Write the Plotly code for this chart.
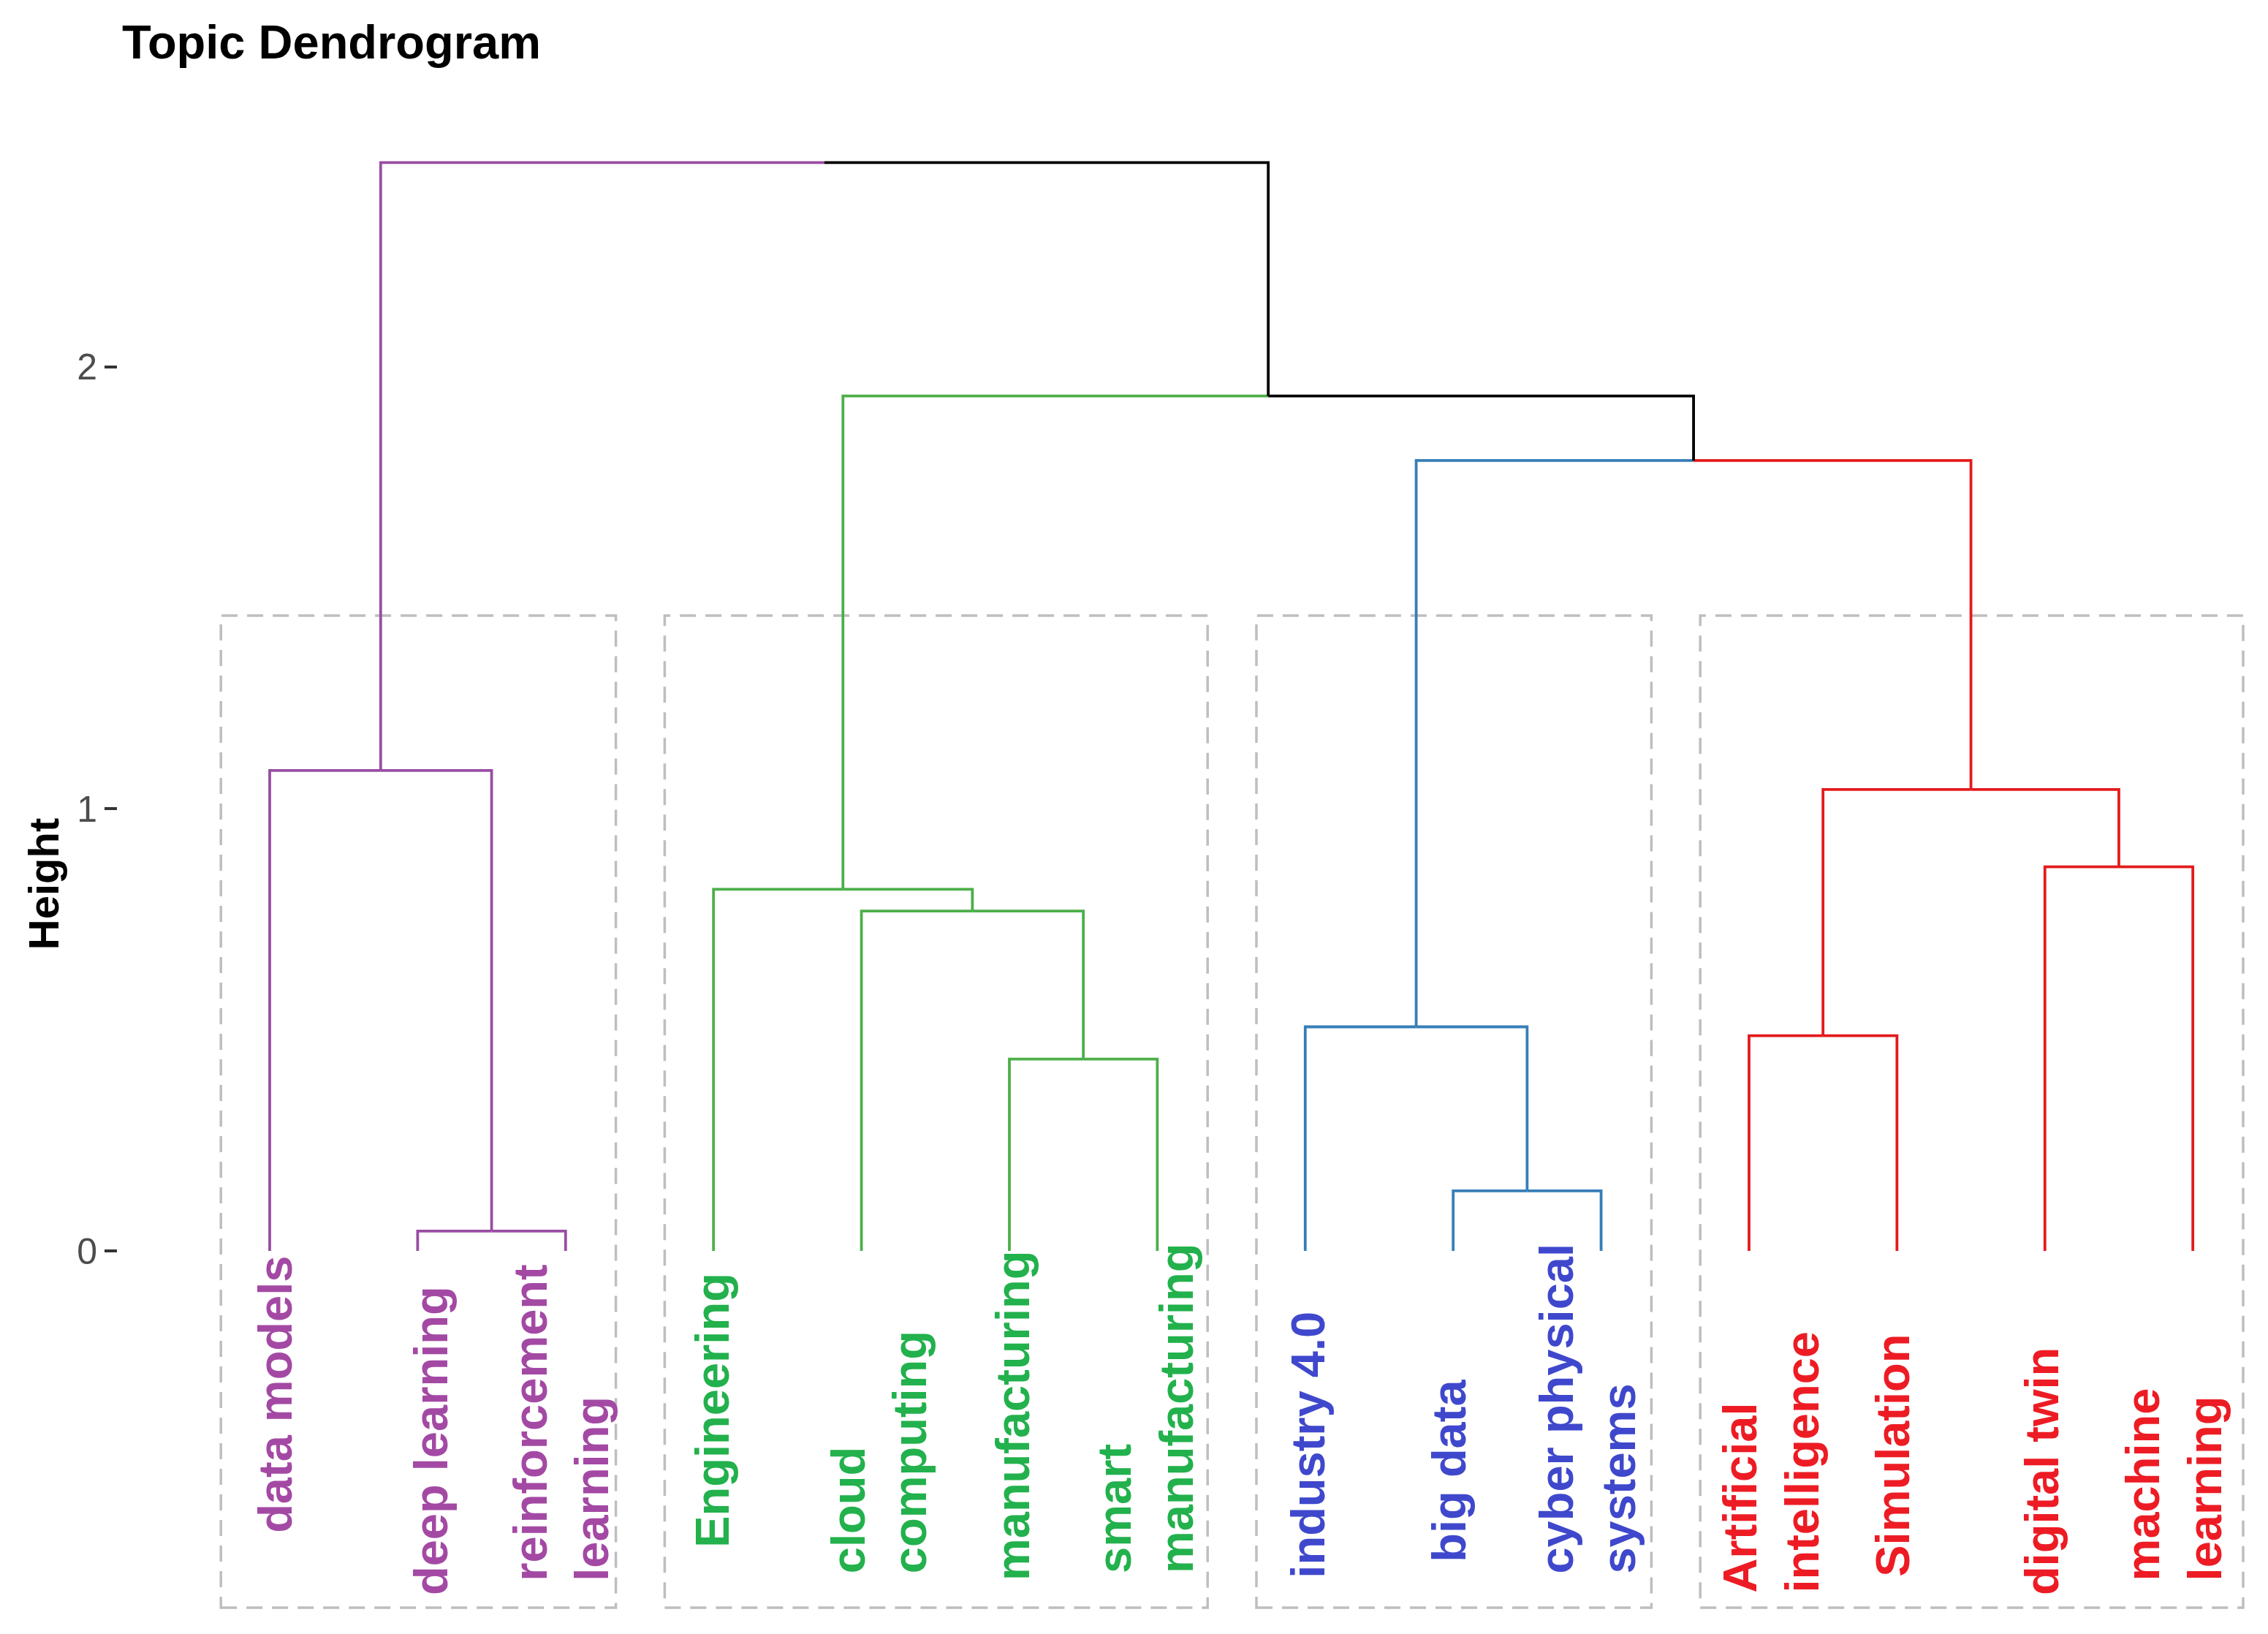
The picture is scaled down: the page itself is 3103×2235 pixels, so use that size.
import plotly.graph_objects as go

# ---------------- data ----------------
LEAF_LABELS = ["data models", "deep learning", "reinforcement<br>learning",
               "Engineering", "cloud<br>computing", "manufacturing", "smart<br>manufacturing",
               "industry 4.0", "big data", "cyber physical<br>systems",
               "Artificial<br>intelligence", "Simulation", "digital twin", "machine<br>learning"]

# hclust-style merges: negative = leaf (1-based, display order), positive = earlier merge (1-based)
MERGE_LEFT = [-2, -9, -6, -11, -8, -5, -4, -13, 4, -1, 5, 7, 10]
MERGE_RIGHT = [-3, -10, -7, -12, 2, 3, 6, -14, 8, 1, 9, 11, 12]
MERGE_HEIGHT = [0.045, 0.136, 0.434, 0.487, 0.507, 0.769, 0.818, 0.869, 1.044, 1.087, 1.788, 1.934, 2.462]

LEAF_CLUSTER = [1, 1, 1, 2, 2, 2, 2, 3, 3, 3, 4, 4, 4, 4]
N_CLUSTERS = 4
Y_TICKS = [0, 1, 2]

# ---------------- styles / layout ----------------
BRANCH_COLORS = {1: "#984EA3", 2: "#4DAF4A", 3: "#377EB8", 4: "#E41A1C"}
LABEL_COLORS = {1: "#A349A4", 2: "#22B14C", 3: "#3F48CC", 4: "#ED1C24"}
RECT_PAD_L = 0.33
RECT_PAD_R = 0.34
RECT_BOTTOM = -0.807
# where each leaf label text starts (bottom of the rotated text), in axis units
LABEL_START = [-0.642, -0.782, -0.750, -0.674, -0.733, -0.750, -0.733,
               -0.743, -0.707, -0.733, -0.776, -0.740, -0.782, -0.750]
# horizontal nudge of each label relative to its leaf, in leaf units
LABEL_SHIFT = [0.04, 0.09, -0.03, -0.01, 0.12, 0.02, -0.08,
               0.02, -0.03, -0.09, 0.15, -0.03, -0.02, -0.13]
FONT = "Liberation Sans, Arial, sans-serif"

n = len(LEAF_LABELS)


def ref_info(r, cache):
    """return (x, height, set of clusters) for a node reference"""
    if r < 0:
        i = -r
        return float(i), 0.0, {LEAF_CLUSTER[i - 1]}
    return cache[r]


cache = {}
segments = {}  # color -> list of (xs, ys)
for k, (a, b, h) in enumerate(zip(MERGE_LEFT, MERGE_RIGHT, MERGE_HEIGHT), start=1):
    xa, ha, ca = ref_info(a, cache)
    xb, hb, cb = ref_info(b, cache)
    x = (xa + xb) / 2.0
    cache[k] = (x, h, ca | cb)
    for xc, hc, cc in ((xa, ha, ca), (xb, hb, cb)):
        col = BRANCH_COLORS[next(iter(cc))] if len(cc) == 1 else "#000000"
        segments.setdefault(col, []).append(([xc, xc, x], [hc, h, h]))

fig = go.Figure()
for col, segs in segments.items():
    xs, ys = [], []
    for sx, sy in segs:
        xs += sx + [None]
        ys += sy + [None]
    fig.add_trace(go.Scatter(x=xs, y=ys, mode="lines",
                             line=dict(color=col, width=3.8),
                             hoverinfo="skip", showlegend=False))

# cluster rectangles
sorted_h = sorted(MERGE_HEIGHT, reverse=True)
rect_top = (sorted_h[N_CLUSTERS - 2] + sorted_h[N_CLUSTERS - 1]) / 2.0
for c in range(1, N_CLUSTERS + 1):
    idx = [i + 1 for i, cl in enumerate(LEAF_CLUSTER) if cl == c]
    fig.add_shape(type="rect", xref="x", yref="y",
                  x0=min(idx) - RECT_PAD_L, x1=max(idx) + RECT_PAD_R,
                  y0=RECT_BOTTOM, y1=rect_top,
                  line=dict(color="#BEBEBE", width=3.5, dash="22px,13px"),
                  fillcolor="rgba(0,0,0,0)", layer="below")

# leaf labels
for i, lab in enumerate(LEAF_LABELS, start=1):
    fig.add_annotation(x=i + LABEL_SHIFT[i - 1], y=LABEL_START[i - 1], xref="x", yref="y",
                       text="<b>" + lab + "</b>",
                       showarrow=False, textangle=-90, xanchor="center", yanchor="bottom",
                       align="left",
                       font=dict(family=FONT, size=65, color=LABEL_COLORS[LEAF_CLUSTER[i - 1]]))

# y-axis title
fig.add_annotation(x=-0.0347, y=0.83, xref="paper", yref="y", text="<b>Height</b>",
                   showarrow=False, textangle=-90, xanchor="center", yanchor="middle",
                   font=dict(family=FONT, size=58, color="#000000"))

W, H = 3103, 2235
fig.update_layout(
    width=W, height=H,
    margin=dict(l=153, r=11, t=131, b=18, pad=0),
    paper_bgcolor="white", plot_bgcolor="white",
    title=dict(text="<b>Topic Dendrogram</b>", x=159 / W, xref="container", xanchor="left",
               y=1 - 49 / H, yref="container", yanchor="middle",
               font=dict(family=FONT, size=65, color="#000000")),
    xaxis=dict(visible=False, range=[-0.0277, 14.4933]),
    yaxis=dict(range=[-0.85, 2.6], tickvals=Y_TICKS, ticktext=[str(t) for t in Y_TICKS],
               ticks="outside", ticklen=17, tickwidth=3.5, tickcolor="#333333",
               showgrid=False, zeroline=False, showline=False,
               tickfont=dict(family=FONT, size=50, color="#4D4D4D")),
)

fig.write_html("out.html")
